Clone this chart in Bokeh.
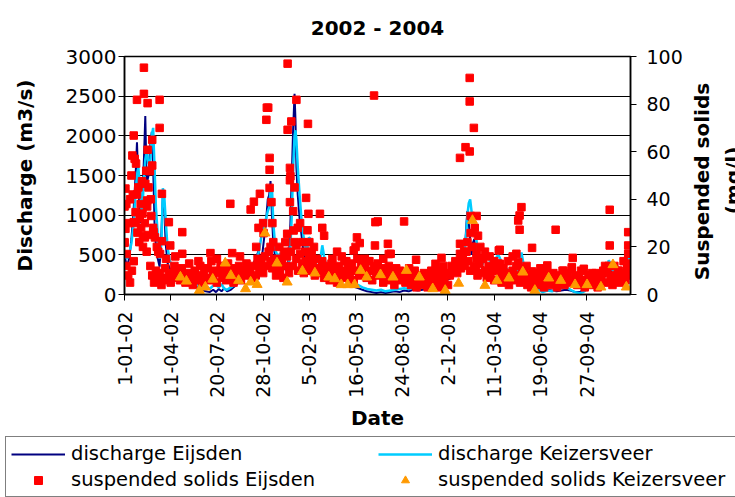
import math
from bokeh.plotting import figure
from bokeh.models import Range1d, LinearAxis, FixedTicker, Legend, LegendItem, Label
from bokeh.layouts import column, row
from bokeh.embed import file_html
from bokeh.resources import INLINE

title_text = "2002 - 2004"
x_axis_title = "Date"
left_axis_title = "Discharge (m3/s)"
right_axis_title = ["Suspended solids", "(mg/l)"]
series_names = ["discharge Eijsden", "discharge Keizersveer",
                "suspended solids Eijsden", "suspended solids Keizersveer"]

# x axis: days since 1-01-02, labelled every 100 days
x_tick_days = [0, 100, 200, 300, 400, 500, 600, 700, 800, 900, 1000]
x_tick_labels = ["1-01-02", "11-04-02", "20-07-02", "28-10-02", "5-02-03", "16-05-03",
                 "24-08-03", "2-12-03", "11-03-04", "19-06-04", "27-09-04"]
left_ticks = [0, 500, 1000, 1500, 2000, 2500, 3000]
right_ticks = [0, 20, 40, 60, 80, 100]

# discharge (m3/s), day since 1-01-02
dis_day = [0, 5, 10, 15, 20, 24, 27, 30, 34, 38, 42, 45, 48, 52, 56, 59, 62, 65, 68, 72,
           76, 80, 83, 86, 89, 93, 98, 105, 112, 120, 128, 136, 144, 152, 160, 168, 176, 184, 192, 198,
           204, 210, 216, 222, 230, 238, 246, 254, 262, 270, 278, 285, 290, 294, 298, 302, 306, 310, 313, 316,
           319, 322, 327, 332, 337, 342, 347, 352, 356, 359, 362, 365, 368, 370, 372, 375, 379, 383, 387, 391,
           395, 399, 403, 407, 412, 418, 424, 428, 432, 438, 445, 455, 465, 475, 485, 495, 505, 515, 525, 535,
           545, 555, 565, 575, 585, 595, 605, 615, 625, 635, 645, 655, 665, 675, 685, 695, 705, 712, 718, 724,
           728, 732, 736, 740, 742, 745, 748, 751, 754, 757, 760, 764, 768, 772, 776, 781, 786, 792, 797, 803,
           809, 813, 818, 823, 828, 833, 840, 848, 855, 859, 863, 868, 875, 885, 895, 905, 915, 925, 935, 945,
           955, 965, 975, 985, 995, 1005, 1015, 1025, 1035, 1043, 1048, 1052, 1058, 1065, 1072, 1080, 1086, 1090, 1095]
dis_eijsden = [500, 350, 450, 700, 1100, 1500, 1920, 1400, 900, 1100, 1700, 2250, 1400, 1500, 1900, 2050, 1600, 900, 600, 450,
               350, 800, 1250, 1100, 650, 400, 330, 280, 250, 220, 200, 170, 140, 110, 80, 60, 40, 30, 60, 30,
               70, 40, 80, 40, 60, 100, 150, 220, 300, 260, 380, 470, 550, 450, 500, 700, 900, 1200, 1250, 1430,
               1000, 650, 420, 450, 500, 400, 320, 300, 500, 900, 1500, 2100, 2530, 2200, 1600, 1250, 950, 750, 550, 450,
               400, 450, 550, 380, 300, 250, 300, 400, 320, 250, 200, 180, 150, 200, 150, 100, 80, 60, 40, 30,
               20, 30, 20, 30, 40, 30, 50, 40, 60, 50, 60, 80, 100, 120, 150, 180, 200, 250, 300, 400,
               300, 350, 500, 900, 1050, 900, 700, 500, 650, 700, 500, 350, 250, 300, 350, 300, 350, 300, 250, 300,
               350, 300, 200, 250, 300, 200, 180, 200, 300, 400, 300, 200, 150, 100, 80, 50, 60, 50, 40, 50,
               60, 50, 30, 30, 60, 100, 120, 150, 200, 250, 320, 300, 250, 200, 220, 250, 350, 400, 350]
dis_keizersveer = [560, 450, 500, 650, 900, 1300, 1500, 1600, 1300, 1000, 1450, 1700, 1800, 1650, 1700, 2000, 2100, 1600, 1100, 750,
                   450, 650, 1340, 1250, 950, 600, 420, 350, 320, 280, 250, 220, 190, 150, 120, 100, 90, 70, 110, 120,
                   90, 130, 70, 60, 90, 120, 150, 200, 280, 300, 340, 450, 520, 650, 800, 900, 950, 1050, 1100, 1300,
                   1370, 900, 550, 480, 520, 450, 380, 330, 400, 600, 1000, 1600, 2000, 2070, 1950, 1600, 1250, 950, 750, 600,
                   550, 720, 700, 520, 400, 330, 450, 620, 480, 320, 250, 230, 200, 250, 200, 150, 120, 90, 70, 60,
                   50, 60, 40, 50, 60, 70, 80, 70, 90, 80, 100, 120, 150, 180, 200, 230, 260, 300, 350, 450,
                   500, 400, 550, 800, 1000, 1150, 1200, 1050, 900, 1000, 800, 550, 400, 350, 400, 450, 500, 400, 350, 450,
                   500, 450, 300, 280, 330, 250, 220, 250, 380, 530, 400, 250, 180, 120, 60, 30, 50, 40, 60, 80,
                   100, 60, 30, 15, 40, 110, 130, 180, 250, 300, 430, 380, 300, 250, 280, 300, 420, 470, 450]

# suspended solids Eijsden (mg/l): regular 4-day samples from 1-01-02 ...
ss_eijsden_band_step = 4
ss_eijsden_band = [22, 12, 8, 5, 10, 14, 30, 26, 22, 28,
                   20, 24, 18, 25, 12, 8, 5, 10, 6, 9,
                   4, 7, 11, 6, 8, 5, 9, 12, 7, 10,
                   6, 11, 8, 5, 9, 13, 7, 4, 10, 6,
                   8, 12, 5, 9, 7, 11, 6, 14, 8, 10,
                   5, 9, 12, 7, 10, 6, 13, 8, 11, 5,
                   9, 7, 12, 6, 10, 8, 13, 9, 11, 7,
                   12, 8, 15, 10, 13, 9, 16, 12, 18, 14,
                   11, 15, 8, 13, 10, 14, 7, 12, 16, 9,
                   18, 12, 22, 15, 10, 17, 13, 9, 14, 11,
                   16, 10, 13, 8, 15, 11, 9, 14, 7, 12,
                   10, 6, 13, 9, 11, 5, 12, 8, 10, 14,
                   7, 11, 9, 13, 6, 10, 15, 8, 12, 9,
                   11, 7, 14, 10, 6, 12, 9, 13, 8, 11,
                   5, 10, 8, 12, 6, 9, 4, 11, 7, 10,
                   6, 9, 5, 8, 11, 4, 7, 10, 3, 6,
                   8, 4, 9, 6, 3, 7, 10, 5, 8, 4,
                   6, 3, 7, 5, 9, 4, 8, 12, 10, 14,
                   9, 13, 11, 16, 12, 18, 14, 10, 20, 12,
                   11, 8, 13, 9, 15, 10, 7, 12, 8, 11,
                   6, 10, 13, 8, 5, 11, 7, 9, 4, 8,
                   10, 6, 12, 8, 5, 9, 11, 7, 4, 8,
                   3, 7, 5, 9, 4, 6, 8, 3, 10, 5,
                   7, 4, 9, 6, 3, 8, 5, 10, 4, 7,
                   9, 5, 11, 6, 8, 4, 7, 10, 5, 3,
                   6, 8, 4, 9, 5, 7, 3, 8, 6, 10,
                   5, 9, 12, 7, 4, 8, 6, 10, 5, 7,
                   9, 6, 11, 8]
# ... plus the extra (higher) samples
ss_eijsden_extra_day = [0, 0, 2, 2, 4, 5, 8, 12, 15, 17, 18, 20, 20, 22, 24, 25, 27, 27, 30, 33,
                        35, 38, 39, 40, 42, 42, 44, 45, 47, 49, 49, 50, 50, 52, 55, 57, 58, 60, 60, 62,
                        63, 66, 70, 73, 76, 76, 77, 81, 81, 90, 96, 99, 110, 125, 125,
                        160, 186, 200, 229, 233, 250, 273, 280, 285, 290, 293, 300, 301, 307, 308, 311, 314, 314, 314,
                        316, 318, 320, 322, 335, 340, 345, 348,
                        352, 353, 353, 358, 359, 358, 358, 361, 365, 366, 368, 372, 372, 375, 380, 385, 390, 393,
                        396, 397, 398, 400, 405, 410, 423, 428, 432,
                        450, 460, 470, 480, 496, 500, 503, 509, 520, 530, 540, 542, 543, 548, 560, 570, 572, 576,
                        605, 631, 672, 673, 680, 686, 690,
                        726, 726, 726, 730, 735, 738, 742, 747, 747, 747, 749, 749, 752, 756, 758, 762, 762, 762,
                        765, 770, 775, 780, 790, 800, 810, 812, 812, 830, 840, 848, 852, 852, 855, 855, 859, 870,
                        882, 882, 900, 915, 933, 950, 968, 970, 994, 1020, 1040, 1050, 1050, 1060, 1070, 1080,
                        1090, 1090, 1090, 1090]
ss_eijsden_extra = [37, 21.7, 27.6, 44.5, 38, 17, 30, 40, 50, 58.4, 42, 66.8, 30.4, 57, 34.6, 55, 42, 81.8, 45, 32,
                    38, 47.6, 34, 24.5, 95.3, 84.3, 30, 46.5, 52, 39.5, 37, 80.4, 60.8, 45, 51.8, 40, 33, 65, 54.2, 28,
                    26.2, 24, 20, 18, 81.8, 70, 17, 42.3, 22.4, 15, 30.4, 20.6, 16, 26.2, 17.1,
                    14, 17.4, 15, 38.1, 17.4, 16, 35.7, 39, 20, 28, 42.3, 30, 25.8, 73.4, 78.5, 78.5, 57.4, 52.4, 44.8,
                    20, 38.8, 30, 22, 20, 15, 18, 22,
                    25.5, 97, 69.2, 53.2, 49.7, 48, 38.8, 72.7, 35, 26.9, 45, 81.8, 20.6, 28, 30, 22, 18, 40.6,
                    27, 71.7, 33.9, 22, 18, 20, 33.9, 28, 24.7,
                    15, 18, 16, 14, 18.5, 20, 24, 21.6, 15, 14, 83.6, 20.6, 30.4, 30.7, 15, 21.3, 17, 17.1,
                    30.7, 14.6, 9.4, 12.9, 10, 15.4, 12,
                    57.4, 21.3, 17.1, 14, 18, 61.9, 22, 91, 81.1, 60.1, 33, 25.8, 20, 70, 28, 33, 16.8, 15.1,
                    24.7, 20, 15, 18, 16, 14, 18.5, 18.8, 12.9, 14, 16, 17.1, 13.6, 31.1, 33.2, 27.2, 36.7, 12,
                    19.6, 9.7, 11, 12.2, 27.2, 10, 11.5, 15.4, 10.8, 9, 12, 35.6, 20.6, 12, 10, 14,
                    26.2, 20.6, 17.1, 13]

# suspended solids Keizersveer (mg/l)
ss_keizersveer_day = [121, 134, 162, 175, 191, 218, 230, 247, 262, 273, 287, 304, 330, 352, 385, 412, 442, 455, 469, 483,
                      498, 511, 524, 554, 581, 610, 638, 667, 694, 723, 753, 780, 806, 832, 862, 888, 918, 944, 975, 1001,
                      1031, 1057, 1086]
ss_keizersveer = [7.3, 5.6, 1.7, 3.1, 6.4, 13.2, 8, 5.9, 2.4, 5.2, 4.2, 25.8, 13.2, 5.2, 9.8, 9, 7.3, 6.6, 4.1, 4.1,
                  4.1, 10.1, 7.3, 8.3, 7.3, 10.1, 7.3, 2.4, 1.7, 4.7, 31.1, 3.8, 5.9, 6.9, 9.4, 1.7, 6.9, 5.9, 4.1, 4.1,
                  3.1, 12.5, 3.1]

band_days = [i * ss_eijsden_band_step for i in range(len(ss_eijsden_band))]

FONT = "DejaVu Sans"
NAVY, SKY, RED, ORANGE = "#000080", "#00CCFF", "#FF0000", "#FF9900"


def draw_series(fig, y2):
    """Draw the four series on a figure; returns the renderers used for the legend."""
    r1 = fig.line(dis_day, dis_eijsden, line_color=NAVY, line_width=2)
    r2 = fig.line(dis_day, dis_keizersveer, line_color=SKY, line_width=2.5)
    r3 = fig.scatter(band_days, ss_eijsden_band, marker="square", size=7.5,
                     fill_color=RED, line_color=RED, y_range_name=y2)
    fig.scatter(ss_eijsden_extra_day, ss_eijsden_extra, marker="square", size=7.5,
                fill_color=RED, line_color=RED, y_range_name=y2)
    r4 = fig.scatter(ss_keizersveer_day, ss_keizersveer, marker="triangle", size=10,
                     fill_color=ORANGE, line_color=ORANGE, y_range_name=y2)
    return r1, r2, r3, r4


# ---------------- main chart ----------------
p = figure(width=689, height=434, output_backend="svg", toolbar_location=None,
           x_range=Range1d(0, 1095), y_range=Range1d(0, 3000),
           min_border_left=124, min_border_right=59, min_border_top=56, min_border_bottom=140,
           background_fill_color="white", border_fill_color="white")
p.extra_y_ranges = {"ss": Range1d(0, 100)}

p.title.text = title_text
p.title.align = "center"
p.title.vertical_align = "top"
p.title.text_font = FONT
p.title.text_font_style = "bold"
p.title.text_font_size = "20px"
p.title.text_color = "black"
p.title.standoff = 30

p.outline_line_color = "black"
p.outline_line_width = 1.5
p.xgrid.visible = False
p.ygrid.grid_line_color = "black"
p.ygrid.grid_line_width = 1
p.ygrid.ticker = FixedTicker(ticks=left_ticks)

draw_series(p, "ss")


def style_axis(ax, label_size="19px"):
    ax.axis_line_color = "black"
    ax.axis_line_width = 1.5
    ax.major_tick_line_color = "black"
    ax.major_tick_in = 0
    ax.major_tick_out = 6
    ax.minor_tick_line_color = None
    ax.major_label_text_font = FONT
    ax.major_label_text_font_size = label_size
    ax.major_label_text_color = "black"
    ax.axis_label_text_font = FONT
    ax.axis_label_text_font_style = "bold"
    ax.axis_label_text_font_size = "20px"
    ax.axis_label_text_color = "black"


xa = p.xaxis[0]
style_axis(xa)
xa.ticker = FixedTicker(ticks=x_tick_days)
xa.major_label_overrides = {d: s for d, s in zip(x_tick_days, x_tick_labels)}
xa.major_label_orientation = math.pi / 2
xa.major_label_standoff = 11
xa.axis_label = x_axis_title
xa.axis_label_standoff = 5

ya = p.yaxis[0]
style_axis(ya, "20px")
ya.ticker = FixedTicker(ticks=left_ticks)
ya.major_label_standoff = 2
ya.axis_label = left_axis_title
ya.axis_label_standoff = 26

yr = LinearAxis(y_range_name="ss", ticker=FixedTicker(ticks=right_ticks))
style_axis(yr)
yr.major_label_standoff = 10
p.add_layout(yr, "right")

# ---------------- right-hand axis title (reads bottom to top) ----------------
# (its frame is aligned with the main chart's frame: 238 px high)
side = figure(width=46, height=434, output_backend="svg", toolbar_location=None,
              x_range=Range1d(0, 1), y_range=Range1d(0, 1),
              x_axis_location=None, y_axis_location=None,
              min_border_left=0, min_border_right=0, min_border_top=0, min_border_bottom=0,
              outline_line_color=None, background_fill_color="white", border_fill_color="white")
side.grid.visible = False
for txt, sx, sy in zip(right_axis_title, [12, 43], [113, 114]):
    side.add_layout(Label(x=sx, y=sy, x_units="screen", y_units="screen", text=txt,
                          angle=math.pi / 2, angle_units="rad",
                          text_align="center", text_baseline="middle",
                          text_font=FONT, text_font_style="bold", text_font_size="20px",
                          text_color="black"))

# ---------------- legend strip ----------------
# the series are drawn here outside the visible ranges, only to supply legend glyphs
lg = figure(width=735, height=63, output_backend="svg", toolbar_location=None,
            x_range=Range1d(-20, -10), y_range=Range1d(-20, -10),
            x_axis_location=None, y_axis_location=None,
            min_border_left=0, min_border_right=0, min_border_top=0, min_border_bottom=0,
            outline_line_color=None, background_fill_color="white", border_fill_color="white")
lg.extra_y_ranges = {"ss": Range1d(-20, -10)}
lg.grid.visible = False
g_de, g_dk, g_se, g_sk = draw_series(lg, "ss")

legend = Legend(items=[LegendItem(label=series_names[0], renderers=[g_de]),
                       LegendItem(label=series_names[2], renderers=[g_se]),
                       LegendItem(label=series_names[1], renderers=[g_dk]),
                       LegendItem(label=series_names[3], renderers=[g_sk])],
                location=(5, 0), ncols=2, orientation="vertical",
                padding=5, spacing=3, margin=0,
                glyph_width=54, glyph_height=20, label_standoff=6, label_width=304, label_height=23,
                label_text_font=FONT, label_text_font_size="19.5px", label_text_color="black",
                border_line_color="black", border_line_width=1,
                background_fill_color="white", background_fill_alpha=1)
lg.add_layout(legend)

layout = column(row(p, side), lg)
open("out.html", "w").write(file_html(layout, INLINE))
